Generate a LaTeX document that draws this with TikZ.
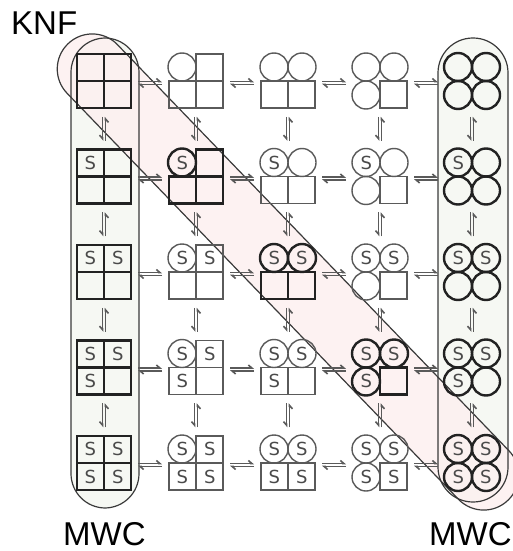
\documentclass[tikz,border=0pt]{standalone}
\usepackage{fontspec}
\setmainfont{Liberation Sans}
\newfontfamily\sfont{DejaVu Sans}
\usetikzlibrary{arrows.meta,calc}
\definecolor{boldc}{HTML}{222222}
\definecolor{thinc}{HTML}{5A5A5A}
\definecolor{encl}{HTML}{3A3A3A}
\definecolor{colfill}{HTML}{F6F8F3}
\definecolor{diagfill}{HTML}{FDF0F0}
\definecolor{sc}{HTML}{4A4A4A}
\begin{document}
\begin{tikzpicture}[x=1pt,y=-1pt,
  boldsub/.style={draw=boldc,line width=2.4pt},
  thinsub/.style={draw=thinc,line width=1.4pt},
  slabel/.style={font=\sfont\fontsize{18}{18}\selectfont, text=sc, inner sep=0pt},
  big/.style={font=\fontsize{33}{33}\selectfont, inner sep=0pt, anchor=base west},
  encline/.style={draw=encl, line width=1.2pt},
  harp/.style={draw=thinc, line width=1.6pt, -{Straight Barb[left,length=3.5pt,width=6pt]}},
  harpr/.style={draw=thinc, line width=1.6pt, -{Straight Barb[right,length=3.5pt,width=6pt]}},
]
\useasboundingbox (0,0) rectangle (513,551);

% enclosure fills
\fill[colfill, rounded corners=34.4pt] (71,38) rectangle (139,508);
\fill[colfill, rounded corners=34.9pt] (438,38) rectangle (508,502);
\fill[diagfill, fill opacity=0.85, rotate around={-46.05:(288,272)}, rounded corners=34.9pt]
  (288-317,272-35) rectangle (288+317,272+35);

% enclosure outlines
\draw[encline, rounded corners=34.4pt] (71,38) rectangle (139,508);
\draw[encline, rounded corners=34.9pt] (438,38) rectangle (508,502);
\draw[encline, rotate around={-46.05:(288,272)}, rounded corners=34.9pt]
  (288-317,272-35) rectangle (288+317,272+35);

% cell centres
\foreach \r in {0,...,4}{
  \foreach \c in {0,...,4}{
    \pgfmathsetmacro\cx{104+92*\c}
    \pgfmathsetmacro\cy{81+95.5*\r}
    \coordinate (c\r\c) at (\cx,\cy);
  }
}

% horizontal equilibria
\foreach \r in {0,...,4}{
  \foreach \c [evaluate=\c as \n using int(\c+1)] in {0,...,3}{
    \coordinate (h\r\c) at ($(c\r\c)!0.5!(c\r\n)$);
    \draw[harp] ($(h\r\c)+(-12,0.5)$) -- ($(h\r\c)+(12,0.5)$);
    \draw[harp] ($(h\r\c)+(12,3.5)$) -- ($(h\r\c)+(-12,3.5)$);
  }
}
% vertical equilibria
\foreach \r [evaluate=\r as \n using int(\r+1)] in {0,...,3}{
  \foreach \c in {0,...,4}{
    \coordinate (v\r\c) at ($(c\r\c)!0.5!(c\n\c)$);
    \draw[harpr] ($(v\r\c)+(1.5,12)$) -- ($(v\r\c)+(1.5,-12)$);
    \draw[harpr] ($(v\r\c)+(-1.5,-12)$) -- ($(v\r\c)+(-1.5,12)$);
  }
}

% cells
\foreach \r in {0,...,4}{
  \foreach \c in {0,...,4}{
    \def\st{thinsub}
    \ifnum\c=0 \def\st{boldsub}\fi
    \ifnum\c=4 \def\st{boldsub}\fi
    \ifnum\c=\r \def\st{boldsub}\fi
    \foreach \k/\dx/\dy in {1/-1/-1,2/1/-1,3/-1/1,4/1/1}{
      \ifnum\k>\c
        \draw[\st] ($(c\r\c)+(\dx*13.5-13.5,\dy*13.5-13.5)$) rectangle +(27,27);
      \else
        \draw[\st] ($(c\r\c)+(\dx*14,\dy*14)$) circle[radius=14];
      \fi
      \ifnum\k>\r\else
        \node[slabel] (s\r\c\k) at ($(c\r\c)+(\dx*13.75,\dy*13.75)$) {S};
      \fi
    }
  }
}

% labels
\node[big] (knf) at (11,35) {KNF};
\node[big] (mwcl) at (63,545) {MWC};
\node[big] (mwcr) at (429,545) {MWC};
\end{tikzpicture}
\end{document}
